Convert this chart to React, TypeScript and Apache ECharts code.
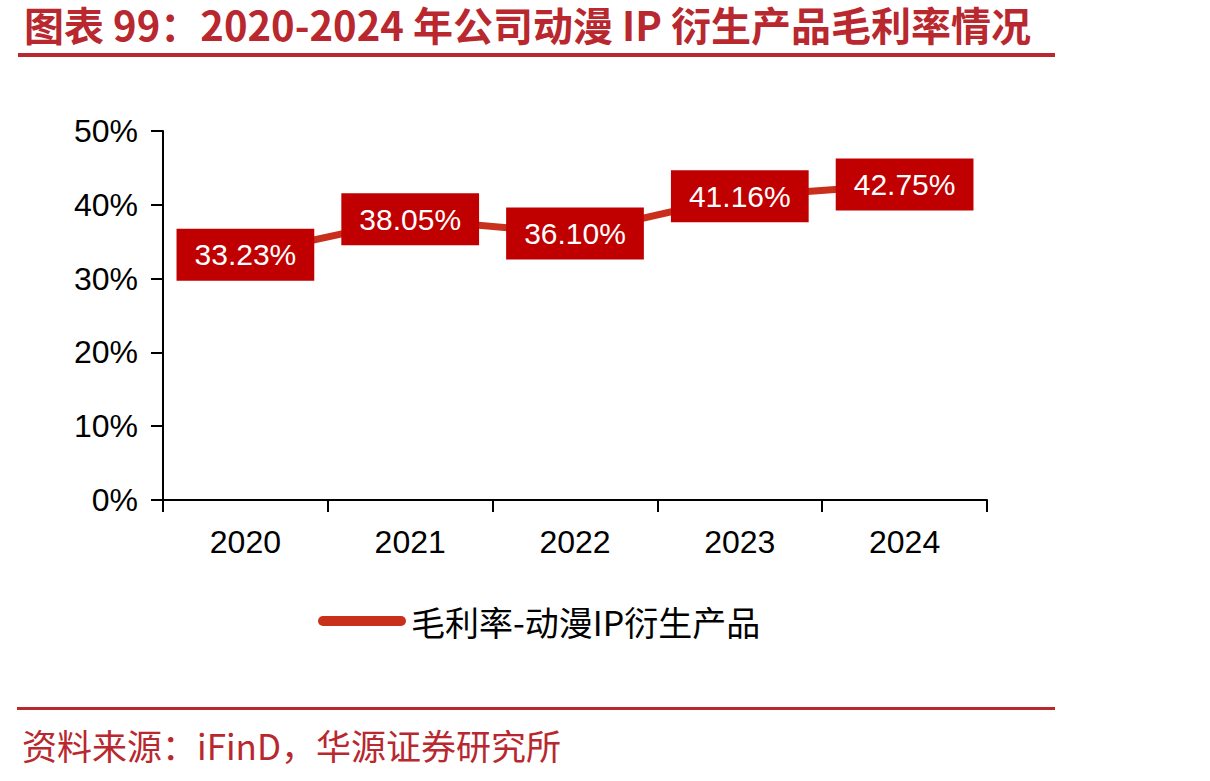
import React, { useEffect, useRef } from "react";
import * as echarts from "echarts";

const years = ["2020", "2021", "2022", "2023", "2024"];
const grossMargin = [33.23, 38.05, 36.1, 41.16, 42.75];
const seriesName = "毛利率-动漫IP衍生产品";
const titleText = "图表 99：2020-2024 年公司动漫 IP 衍生产品毛利率情况";
const sourceText = "资料来源：iFinD，华源证券研究所";

const RED = "#B8282E";
const LINE_RED = "#C9301C";
const LABEL_RED = "#C00000";
const SANS = "'Liberation Sans', Arial, Helvetica, sans-serif";
const CJK = "'Noto Sans CJK SC', 'Liberation Sans', sans-serif";

export default function App() {
  const ref = useRef<HTMLDivElement>(null);

  useEffect(() => {
    if (!ref.current) return;
    const chart = echarts.init(ref.current, null, { renderer: "svg" });
    chart.setOption({
      animation: false,
      backgroundColor: "#ffffff",
      grid: { left: 163, right: 223, top: 131, bottom: 281 },
      xAxis: {
        type: "category",
        data: years,
        boundaryGap: true,
        axisLine: { lineStyle: { color: "#000", width: 2 } },
        axisTick: { show: true, length: 12, lineStyle: { color: "#000", width: 2 } },
        axisLabel: { color: "#000", fontSize: 32, fontFamily: SANS, margin: 26 },
      },
      yAxis: {
        type: "value",
        min: 0,
        max: 50,
        interval: 10,
        splitLine: { show: false },
        axisLine: { show: true, lineStyle: { color: "#000", width: 2 } },
        axisTick: { show: true, length: 12, lineStyle: { color: "#000", width: 2 } },
        axisLabel: {
          color: "#000",
          fontSize: 32,
          fontFamily: SANS,
          margin: 25,
          formatter: "{value}%",
        },
      },
      legend: {
        data: [{ name: seriesName, itemStyle: { color: LINE_RED, opacity: 1 } }],
        left: 313,
        top: 599,
        itemWidth: 88,
        itemHeight: 10,
        itemGap: 10,
        icon: "path://M5,0 L83,0 A5,5 0 0 1 83,10 L5,10 A5,5 0 0 1 5,0 Z",
        textStyle: { color: "#000", fontSize: 34, fontFamily: CJK },
      },
      series: [
        {
          name: seriesName,
          type: "line",
          data: grossMargin,
          color: LINE_RED,
          lineStyle: { color: LINE_RED, width: 7 },
          showSymbol: true,
          symbol: "circle",
          symbolSize: 2,
          itemStyle: { color: LINE_RED },
          label: {
            show: true,
            position: "inside",
            formatter: (p: any) => p.value.toFixed(2) + "%",
            color: "#fff",
            fontSize: 30,
            fontFamily: SANS,
            backgroundColor: LABEL_RED,
            padding: [12, 18, 10, 18],
          },
        },
      ],
      graphic: [
        {
          type: "text",
          left: 24,
          top: 4,
          style: {
            text: titleText,
            fill: RED,
            fontSize: 40,
            fontWeight: "bold",
            fontFamily: CJK,
          },
        },
        {
          type: "rect",
          shape: { x: 18, y: 53, width: 1037, height: 4 },
          style: { fill: RED },
        },
        {
          type: "rect",
          shape: { x: 17, y: 707, width: 1038, height: 3 },
          style: { fill: RED },
        },
        {
          type: "text",
          left: 22,
          top: 727,
          style: {
            text: sourceText,
            fill: RED,
            fontSize: 35,
            fontFamily: CJK,
          },
        },
      ],
    });
    return () => chart.dispose();
  }, []);

  return (
    <div
      ref={ref}
      style={{ position: "absolute", left: 0, top: 0, width: 1210, height: 781 }}
    />
  );
}
